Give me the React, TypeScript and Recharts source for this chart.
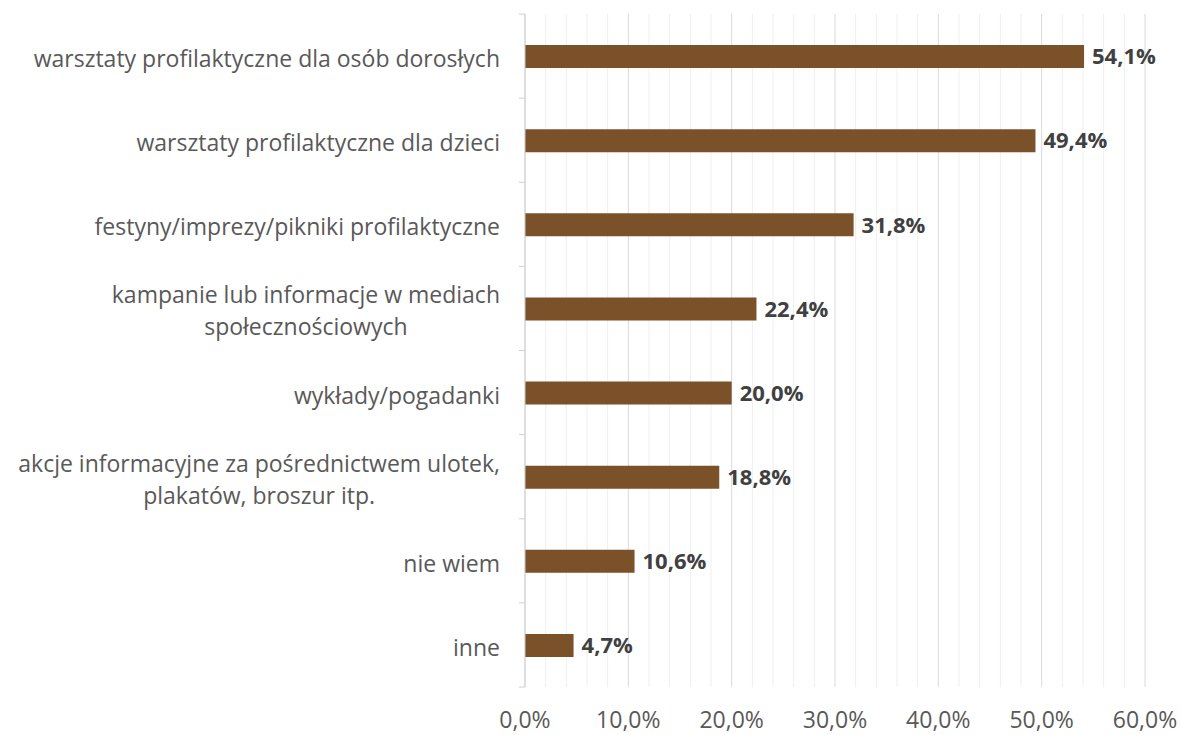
import { Bar, BarChart, CartesianGrid, LabelList, XAxis, YAxis } from "recharts";

const categories = [
  "warsztaty profilaktyczne dla osób dorosłych",
  "warsztaty profilaktyczne dla dzieci",
  "festyny/imprezy/pikniki profilaktyczne",
  "kampanie lub informacje w mediach|społecznościowych",
  "wykłady/pogadanki",
  "akcje informacyjne za pośrednictwem ulotek,|plakatów, broszur itp.",
  "nie wiem",
  "inne",
];
const values = [54.1, 49.4, 31.8, 22.4, 20.0, 18.8, 10.6, 4.7];
const majorTicks = [0, 10, 20, 30, 40, 50, 60];
const minorTicks = [2, 4, 6, 8, 12, 14, 16, 18, 22, 24, 26, 28, 32, 34, 36, 38, 42, 44, 46, 48, 52, 54, 56, 58];

const data = categories.map((c, i) => ({ name: c, value: values[i] }));

const FONT = "'Open Sans', sans-serif";
const LABEL_SIZE = 23;
const W = 1181;
const H = 735;
const TOP = 14;
const BOTTOM = 48;
const BAND = (H - TOP - BOTTOM) / categories.length;

let ctx: CanvasRenderingContext2D | null = null;
function textWidth(s: string) {
  if (!ctx) ctx = document.createElement("canvas").getContext("2d");
  if (!ctx) return s.length * 10;
  ctx.font = `${LABEL_SIZE}px ${FONT}`;
  return ctx.measureText(s).width;
}

const fmt = (v: number) => v.toFixed(1).replace(".", ",") + "%";

function CatTick(props: any) {
  const { x, y, payload, index } = props;
  const ax = x + 8; // axis line position
  const lines: string[] = String(payload.value).split("|");
  const block = Math.max(...lines.map(textWidth));
  const right = ax - 25;
  const cx = lines.length > 1 ? right - block / 2 : right;
  const lh = 32;
  const start = y - ((lines.length - 1) * lh) / 2 + 2;
  return (
    <g>
      <line x1={ax - 6} x2={ax} y1={y - BAND / 2} y2={y - BAND / 2} stroke="#d0d0d0" />
      {index === categories.length - 1 && (
        <line x1={ax - 6} x2={ax} y1={y + BAND / 2} y2={y + BAND / 2} stroke="#d0d0d0" />
      )}
      {lines.map((l, i) => (
        <text
          key={i}
          x={cx}
          y={start + i * lh}
          textAnchor={lines.length > 1 ? "middle" : "end"}
          dominantBaseline="central"
          fill="#595959"
          fontSize={LABEL_SIZE}
          fontFamily={FONT}
        >
          {l}
        </text>
      ))}
    </g>
  );
}

const gridPoints = (ticks: number[]) => (args: any) => {
  const { xAxis, offset } = args;
  if (xAxis && typeof xAxis.scale === "function") return ticks.map((t) => xAxis.scale(t));
  return ticks.map((t) => offset.left + (t / 60) * offset.width);
};

export default function App() {
  return (
    <div style={{ position: "absolute", left: 0, top: 0, width: W, height: H, background: "#fff" }}>
      <BarChart
        width={W}
        height={H}
        data={data}
        layout="vertical"
        margin={{ top: TOP, right: 36, bottom: 0, left: 0 }}
      >
        <CartesianGrid horizontal={false} stroke="#efefef" verticalCoordinatesGenerator={gridPoints(minorTicks)} />
        <CartesianGrid horizontal={false} stroke="#d9d9d9" verticalCoordinatesGenerator={gridPoints(majorTicks)} />
        <XAxis
          type="number"
          domain={[0, 60]}
          ticks={majorTicks}
          tickFormatter={fmt}
          axisLine={false}
          tickLine={false}
          height={BOTTOM}
          tickMargin={19}
          tick={{ fill: "#595959", fontSize: 23, fontFamily: FONT }}
        />
        <YAxis
          type="category"
          dataKey="name"
          width={525}
          axisLine={{ stroke: "#d0d0d0" }}
          tickLine={false}
          interval={0}
          tick={<CatTick />}
        />
        <Bar dataKey="value" fill="#7b5129" barSize={23} isAnimationActive={false}>
          <LabelList
            dataKey="value"
            position="right"
            offset={8}
            formatter={(v: any) => fmt(Number(v))}
            fill="#404040"
            fontSize={22}
            fontWeight="bold"
            fontFamily={FONT}
          />
        </Bar>
      </BarChart>
    </div>
  );
}
